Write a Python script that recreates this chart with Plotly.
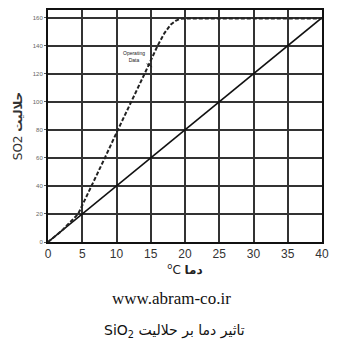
import plotly.graph_objects as go

# data
solid_x = [0, 40]
solid_y = [0, 160]
op_x = [0, 2, 4.4, 6.4, 8.3, 10.2, 12.2, 14.1, 16.0, 17.0, 17.9, 18.7, 19.4, 20, 25, 30, 35, 40]
op_y = [0, 8, 20, 40, 60, 80, 100, 120, 140, 149, 155, 158, 159.3, 159.5, 159.5, 159.5, 159.5, 159.5]
x_ticks = [0, 5, 10, 15, 20, 25, 30, 35, 40]
y_ticks = [0, 20, 40, 60, 80, 100, 120, 140, 160]

fig = go.Figure()
fig.add_trace(go.Scatter(x=solid_x, y=solid_y, mode="lines",
                         line=dict(color="#111", width=1.6), showlegend=False))
fig.add_trace(go.Scatter(x=op_x, y=op_y, mode="lines",
                         line=dict(color="#222", width=2, dash="4px,2px"), showlegend=False))

fig.add_annotation(x=15.2, y=125, ax=-18, ay=-10, text="Operating<br>Data",
                   showarrow=True, arrowhead=0, arrowwidth=1, arrowcolor="#222",
                   font=dict(size=5, color="#222", family="Arial"))

fig.add_annotation(xref="paper", yref="paper", x=0.45, y=-0.245, text="www.abram-co.ir",
                   showarrow=False, font=dict(size=17, color="#111", family="Liberation Serif"),
                   xanchor="center", yanchor="middle")
fig.add_annotation(xref="paper", yref="paper", x=0.46, y=-0.382,
                   text="SiO<sub>2</sub> تاثیر دما بر حلالیت",
                   showarrow=False, font=dict(size=14, color="#111", family="DejaVu Sans"),
                   xanchor="center", yanchor="middle")

fig.update_layout(
    width=338, height=359,
    margin=dict(l=48, r=16, t=8, b=117),
    paper_bgcolor="white", plot_bgcolor="white",
    xaxis=dict(range=[0, 40], tickvals=x_ticks, showgrid=True, gridcolor="#333", gridwidth=1.6,
               showline=True, linecolor="#111", linewidth=2, mirror=True, zeroline=False,
               tickfont=dict(size=12, color="#333", family="Arial"),
               title=dict(text="<sup>o</sup>C <b>دما</b>", standoff=4,
                          font=dict(size=12, color="#222", family="DejaVu Sans"))),
    yaxis=dict(range=[0, 165.5], tickvals=y_ticks, showgrid=True, gridcolor="#333", gridwidth=1.6,
               showline=True, linecolor="#111", linewidth=2, mirror=True, zeroline=False,
               ticks="outside", ticklen=2, tickcolor="#555",
               tickfont=dict(size=6, color="#666", family="Arial"),
               title=dict(text="SO2 <b>حلالیت</b>", standoff=8,
                          font=dict(size=12, color="#333", family="DejaVu Sans"))),
)

fig.write_html("out.html")
